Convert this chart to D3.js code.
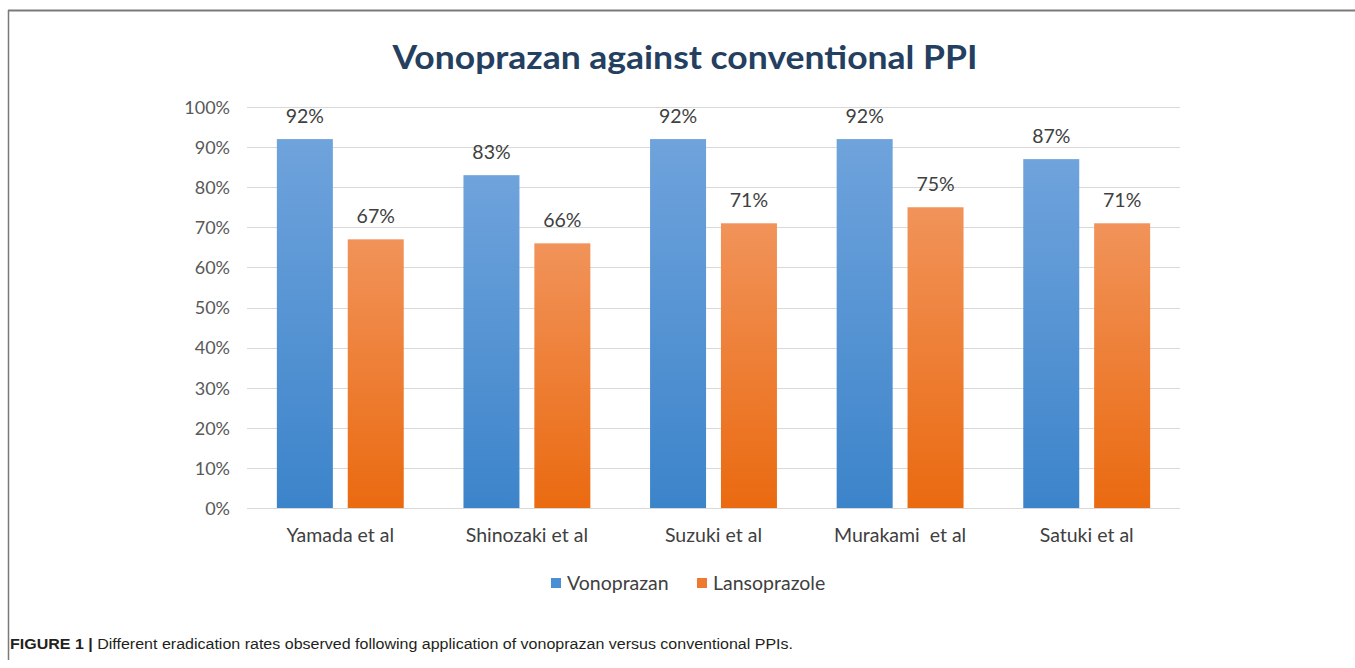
<!DOCTYPE html>
<html><head><meta charset="utf-8">
<script src="https://cdn.jsdelivr.net/npm/d3@7"></script>
<style>html,body{margin:0;padding:0;background:#fff;}svg{display:block;}</style>
</head><body>
<svg id="c" width="1355" height="668"></svg>
<script>
const categories = ["Yamada et al","Shinozaki et al","Suzuki et al","Murakami  et al","Satuki et al"];
const seriesNames = ["Vonoprazan","Lansoprazole"];
const vonoprazan = [92,83,92,92,87];
const lansoprazole = [67,66,71,75,71];
const yTicks = [0,10,20,30,40,50,60,70,80,90,100];

const svg = d3.select("#c");
const W=1355,H=668;
const plot = {l:247,r:1180,t:107,b:508};
const font = "Lato, 'Open Sans', sans-serif";

const defs = svg.append("defs");
const gradDefs = [["gBlue","#6fa3dc","#3c84ca"],["gOrange","#f1935a","#ea6a10"]];
gradDefs.forEach(([id,c1,c2])=>{
  const g = defs.append("linearGradient").attr("id",id).attr("x1",0).attr("y1",0).attr("x2",0).attr("y2",1);
  g.append("stop").attr("offset","0%").attr("stop-color",c1);
  g.append("stop").attr("offset","100%").attr("stop-color",c2);
});

// frame
svg.append("line").attr("x1",8).attr("x2",W).attr("y1",10.5).attr("y2",10.5).attr("stroke","#7a7a7a").attr("stroke-width",2);
svg.append("line").attr("x1",8.5).attr("x2",8.5).attr("y1",10).attr("y2",660).attr("stroke","#7a7a7a").attr("stroke-width",1.5);

const x0 = d3.scaleBand().domain(categories).range([plot.l,plot.r]).paddingInner(0.32).paddingOuter(0.16);
const x1 = d3.scaleBand().domain(seriesNames).range([0,x0.bandwidth()]).paddingInner(0.21);
const y = d3.scaleLinear().domain([0,100]).range([plot.b,plot.t]);

// gridlines
svg.append("g").selectAll("line").data(yTicks).join("line")
  .attr("x1",plot.l).attr("x2",plot.r)
  .attr("y1",d=>Math.round(y(d))+0.5).attr("y2",d=>Math.round(y(d))+0.5)
  .attr("stroke","#d9d9d9").attr("stroke-width",1);

// y axis
const yAxis = svg.append("g").attr("transform",`translate(${plot.l-17},0)`)
  .call(d3.axisLeft(y).tickValues(yTicks).tickFormat(d=>d+"%").tickSize(0).tickPadding(0));
yAxis.select(".domain").remove();
yAxis.selectAll("text").attr("font-family",font).attr("font-size",18).attr("fill","#595959").attr("dy","0.35em");

// x axis
const xAxis = svg.append("g").attr("transform",`translate(0,${plot.b})`)
  .call(d3.axisBottom(x0).tickSize(0).tickPadding(20));
xAxis.select(".domain").remove();
xAxis.selectAll("text").attr("font-family",font).attr("font-size",19.5).attr("fill","#404040").style("white-space","pre");

const data = categories.map((c,i)=>({cat:c, vals:[{s:seriesNames[0],v:vonoprazan[i]},{s:seriesNames[1],v:lansoprazole[i]}]}));
const fills = {"Vonoprazan":"url(#gBlue)","Lansoprazole":"url(#gOrange)"};

const groups = svg.append("g").selectAll("g").data(data).join("g")
  .attr("transform",d=>`translate(${x0(d.cat)},0)`);
groups.selectAll("rect").data(d=>d.vals).join("rect")
  .attr("x",d=>x1(d.s)).attr("width",x1.bandwidth())
  .attr("y",d=>y(d.v)).attr("height",d=>y(0)-y(d.v))
  .attr("fill",d=>fills[d.s]);
groups.selectAll("text").data(d=>d.vals).join("text")
  .attr("x",d=>x1(d.s)+x1.bandwidth()/2).attr("y",d=>y(d.v)-16)
  .attr("text-anchor","middle").attr("font-family",font).attr("font-size",19.5).attr("fill","#404040")
  .text(d=>d.v+"%");

// title
svg.append("text").attr("x",685).attr("y",69).attr("text-anchor","middle")
  .attr("font-family",font).attr("font-weight","bold").attr("font-size",33).attr("fill","#243f60")
  .attr("textLength",585).attr("lengthAdjust","spacingAndGlyphs")
  .text("Vonoprazan against conventional PPI");

// legend
const legColors = ["#4a8fd4","#ee7a30"];
const legX = [551,697];
seriesNames.forEach((s,i)=>{
  svg.append("rect").attr("x",legX[i]).attr("y",578).attr("width",10).attr("height",10).attr("fill",legColors[i]);
  svg.append("text").attr("x",legX[i]+16).attr("y",583).attr("dy","0.35em")
    .attr("font-family",font).attr("font-size",19.5).attr("fill","#404040").text(s);
});

// caption
const cap = svg.append("text").attr("x",10).attr("y",649).attr("font-family","'Liberation Sans Narrow','Arial Narrow','Liberation Sans',Arial,sans-serif").attr("font-size",15.5).attr("fill","#231f20");
cap.append("tspan").attr("font-weight","bold").text("FIGURE 1 | ");
cap.append("tspan").text("Different eradication rates observed following application of vonoprazan versus conventional PPIs.");
cap.attr("textLength",783).attr("lengthAdjust","spacingAndGlyphs");
</script>
</body></html>
